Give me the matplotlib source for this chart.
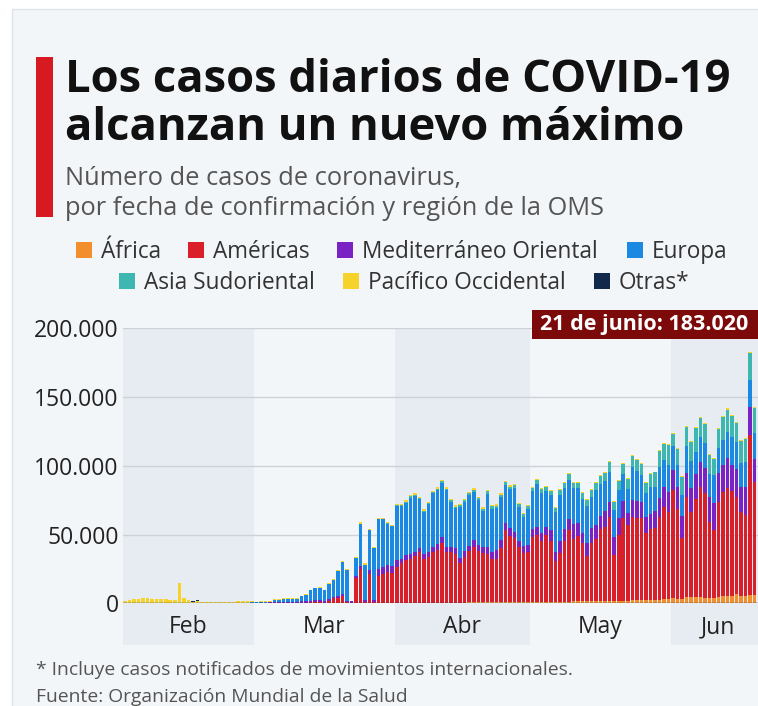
import numpy as np
import matplotlib
matplotlib.use("Agg")
import matplotlib.pyplot as plt
from matplotlib.patches import Rectangle

plt.rcParams['font.family'] = ['Open Sans', 'DejaVu Sans']

# daily cases by WHO region, one value per day starting 1 Feb 2020
regions = ['África', 'Américas', 'Mediterráneo Oriental', 'Europa',
           'Asia Sudoriental', 'Pacífico Occidental', 'Otras*']
colors = ['#f28e2b', '#d9202a', '#7a22c4', '#1b88e2', '#3fb7b1', '#f6d32b', '#11294a']

africa = [0] * 50 + [
    100, 100, 100, 100, 200, 200, 200, 200, 300, 300, 300,
    300, 300, 300, 300, 400, 400, 400, 400, 400, 500, 500, 500, 500, 500, 500,
    600, 600, 600, 600, 600, 600, 700, 800, 800, 800, 900, 900, 900, 1000,
    1000, 1000, 1100, 1100, 1200, 1200, 1200, 1300, 1300, 1400, 1400, 1400, 1500,
    1500, 1600, 1600, 1700, 1800, 1800, 1900, 2000, 2000, 2100, 2200, 2300, 2300,
    2400, 2500, 2600, 2800, 2900, 3500, 3200, 3000, 4500, 4600, 4400, 4300, 4200,
    4000, 4200, 4800, 5000, 5200, 5500, 6500, 5500, 5000, 6000, 6000]
americas = [0] * 33 + [
    100, 100, 100, 200, 300, 300, 400, 500, 600, 900, 1000, 300, 2000, 3500,
    4000, 5000, 800, 300, 18000, 24500, 500, 21000, 500, 19600, 21000, 22300,
    21600, 26400,
    28700, 31200, 32000, 33900, 36600, 31600, 33400, 37200, 38600, 43100, 37100,
    37100, 35200, 28500, 33300, 37400, 40600, 37400, 35800, 35400, 31800, 31700,
    39500, 52500, 48200, 46700, 39700, 35600, 36000,
    47000, 48700, 44500, 48600, 44400, 29800, 35600, 44300, 52000, 45100, 47600,
    42200, 32900, 42100, 44900, 52200, 54100, 60700, 33200, 47800, 59800, 55000,
    60400, 59600, 59500, 48700, 51600, 52000, 60400,
    67500, 63800, 78900, 65200, 44300, 73100, 62100, 71200, 80100, 76300, 55400,
    49100, 69200, 76200, 78400, 76500, 71100, 61200, 59200, 116400, 82000]
mediterraneo = [0] * 24 + [
    100, 150, 200, 250, 300,
    300, 500, 500, 600, 700, 800, 800, 900, 1000, 1000, 1100, 1200, 1300, 1300,
    1300, 1200, 1300, 1200, 1300, 1500, 1000, 1000, 2000, 2300, 2000, 3000, 2000,
    5000, 5000, 5000, 5000, 4500,
    3000, 3500, 3700, 3300, 3500, 3500, 3700, 3400, 4000, 4400, 3400, 3400, 4300,
    4000, 4500, 4000, 4800, 4400, 4300, 4700, 5200, 6100, 5700, 5300, 5500, 4500,
    5000, 5500, 5500,
    5800, 5600, 5800, 5600, 7700, 6600, 8800, 8200, 7700, 11200, 9200, 7300, 9200,
    10900, 10500, 9700, 11600, 11500, 13000, 12100, 12900, 9000, 12700, 12900,
    12100, 11500, 11200, 12900, 13400,
    14100, 14500, 14600, 16400, 16200, 16900, 16900, 18400, 18600, 17700, 17600,
    19400, 20500, 19400, 21900, 18600, 19900, 18100, 20600, 20600, 17000]
europa = [0] * 24 + [
    100, 150, 250, 300, 400,
    300, 500, 600, 600, 1500, 1800, 2000, 1900, 2100, 2100, 3600, 4300, 7500, 8600,
    9000, 7900, 11000, 12500, 17900, 23600, 22300, 0, 12900, 30800, 25600, 29200,
    37700, 36400, 34900, 30300, 29100, 39900,
    38700, 38200, 40900, 40600, 35100, 30900, 34500, 38900, 39200, 39800, 41200,
    32800, 29000, 37000, 35400, 36400, 35100, 32700, 26500, 39100, 31300, 30800,
    31300, 27400, 28400, 31600, 24400, 20500, 26200,
    27600, 31500, 29000, 26500, 25300, 28500, 33000, 29900, 28700, 26200, 25400,
    25200, 26800, 22700, 25400, 23400, 21600, 21200, 19500, 20400, 19400, 17100,
    23600, 21600, 19700, 17500, 19700, 17400, 23000,
    19800, 19400, 17400, 15800, 15300, 19900, 20200, 16300, 18200, 18600, 17000,
    20600, 18200, 18200, 19300, 20600, 20100, 17500, 18200, 19400, 19000]
asia_sudoriental = [0] * 52 + [
    300, 0, 0, 0, 200, 300, 300, 300, 400,
    800, 800, 900, 900, 1000, 1000, 1000, 1100, 1200, 1200, 1200, 1300, 1300,
    1300, 1400, 1500, 1600, 1600, 1600, 1700, 1700, 1800, 1800, 1900, 2000, 2000,
    2100, 2100, 2200,
    2400, 2600, 2600, 2800, 3000, 3500, 3600, 3500, 4000, 3800, 4100, 4400, 4500,
    5000, 5300, 5600, 6000, 7800, 6500, 6800, 7000, 7200, 8500, 8000, 8000, 7500,
    9000, 10400, 11500,
    11500, 14700, 8500, 11400, 13200, 13900, 13800, 16900, 13800, 13800, 13800,
    11500, 13800, 16600, 16100, 14900, 13500, 15700, 16200, 19600, 18100]
pacifico = [
    1900, 2500, 2800, 3200, 3800, 3700, 3300, 3100, 3000, 2900, 2700, 2200, 15100,
    4000, 2500, 1300, 2000, 1200, 1000, 900, 1000, 900, 900, 1000, 1000, 1100, 1100,
    1200, 1200,
    600, 700, 600, 600, 600, 600, 600, 500, 500, 500, 500, 500, 600, 600, 600, 600,
    700, 800, 800, 900, 900, 200, 800, 800, 800, 800, 800, 800, 800, 800, 800, 800,
    1000, 1000, 1000, 1000, 1000, 1000, 1000, 1000, 1000, 1000, 1000, 900, 900,
    900, 900, 900, 900, 900, 900, 900, 900, 900, 900, 900, 900, 900, 900, 900, 900,
    800, 800, 800, 800, 800, 700, 800, 800, 800, 800, 800, 700, 700, 700, 800, 800,
    800, 800, 700, 700, 700, 700, 700, 700, 700, 700, 600, 600, 600,
    700, 700, 700, 700, 600, 700, 700, 800, 800, 800, 800, 700, 800, 800, 900, 900,
    900, 800, 800, 1020, 900]
otras = [0] * 5 + [10, 40, 0, 0, 60, 0, 0, 0, 40, 70, 70, 100, 90, 80, 10, 60] + [0] * 119

series = [africa, americas, mediterraneo, europa, asia_sudoriental, pacifico, otras]

month_names = ['Feb', 'Mar', 'Abr', 'May', 'Jun']
month_edges = [-0.5, 28.5, 59.5, 89.5, 120.5, 141.5]

W, H = 758, 706
fig = plt.figure(figsize=(W / 100, H / 100), dpi=100)
fig.patch.set_facecolor('white')


def fx(px):
    return px / W


def fy(py):
    return 1 - py / H


# card background (drawn beneath the axes)
fig.patches.append(Rectangle((fx(12), -0.1), 1.2, fy(9) + 0.1, transform=fig.transFigure,
                             facecolor='#f3f6f9', edgecolor='#dfe3e8', lw=1, zorder=-5))
# red accent bar
fig.patches.append(Rectangle((fx(36), fy(217)), fx(53) - fx(36), fy(57) - fy(217),
                             transform=fig.transFigure, facecolor='#d71a21', lw=0, zorder=1))

fig.text(fx(65), fy(92), 'Los casos diarios de COVID-19', fontsize=32.7, fontweight='bold',
         color='#111111', va='baseline')
fig.text(fx(65), fy(140), 'alcanzan un nuevo máximo', fontsize=32.7, fontweight='bold',
         color='#111111', va='baseline')
fig.text(fx(65), fy(185), 'Número de casos de coronavirus,', fontsize=18.3,
         color='#555555', va='baseline')
fig.text(fx(65), fy(215), 'por fecha de confirmación y región de la OMS', fontsize=18.3,
         color='#555555', va='baseline')

# legend, two centred rows
legend_pos = [(76, 250), (188, 250), (337, 250), (627, 250), (119, 281), (343, 281), (594, 281)]
for name, col, (lx, ly) in zip(regions, colors, legend_pos):
    fig.patches.append(Rectangle((fx(lx), fy(ly + 8)), fx(16), 16 / H,
                                 transform=fig.transFigure, facecolor=col, lw=0))
    fig.text(fx(lx + 25), fy(ly + 8), name, fontsize=16.3, color='#333333', va='baseline')

# chart area
x0_px, px_per_day = 122.7, 4.53
xmin, xmax = -0.5, 141.5
ax = fig.add_axes([fx(x0_px), fy(603.3), (xmax - xmin) * px_per_day / W, (603.3 - 328.3) / H])
ax.set_facecolor('none')
ax.set_xlim(xmin, xmax)
ax.set_ylim(0, 200000)

# alternating month bands reaching under the month labels
for i in range(len(month_names)):
    if i % 2 == 0:
        ax.add_patch(Rectangle((month_edges[i], -42 / 275), month_edges[i + 1] - month_edges[i],
                               1 + 42 / 275, transform=ax.get_xaxis_transform(),
                               facecolor='#e7ecf2', lw=0, clip_on=False, zorder=0))
    center = (month_edges[i] + month_edges[i + 1]) / 2
    ax.text(center, -30 / 275, month_names[i], transform=ax.get_xaxis_transform(),
            ha='center', va='baseline', fontsize=16.5, color='#222222')

days = np.arange(len(pacifico))
bottom = np.zeros(len(days))
for vals, col in zip(series, colors):
    vals = np.array(vals, dtype=float)
    ax.bar(days, vals, bottom=bottom, width=0.78, color=col, lw=0, zorder=3)
    bottom += vals

yticks = [0, 50000, 100000, 150000, 200000]
ax.set_yticks(yticks)
ax.set_yticklabels([f'{v:,}'.replace(',', '.') for v in yticks], fontsize=16.5, color='#222222')
ax.tick_params(axis='y', length=0, pad=3)
ax.set_xticks([])
ax.grid(axis='y', color='#cdd2d7', lw=1, zorder=1)
ax.set_axisbelow(True)
for s in ax.spines.values():
    s.set_visible(False)
ax.axhline(0, color='#333333', lw=1.0, zorder=4)

# highlighted value box
fig.patches.append(Rectangle((fx(531.7), fy(339)), 0.5, (339 - 310) / H,
                             transform=fig.transFigure, facecolor='#7d0a0a', lw=0, zorder=5))
fig.text(fx(540), fy(330), '21 de junio: 183.020', fontsize=15.5, fontweight='bold',
         color='white', va='baseline', zorder=6)

fig.text(fx(36), fy(675), '* Incluye casos notificados de movimientos internacionales.',
         fontsize=13.9, color='#555555', va='baseline')
fig.text(fx(36), fy(702), 'Fuente: Organización Mundial de la Salud',
         fontsize=13.9, color='#555555', va='baseline')

fig.savefig('out.png', dpi=100)
